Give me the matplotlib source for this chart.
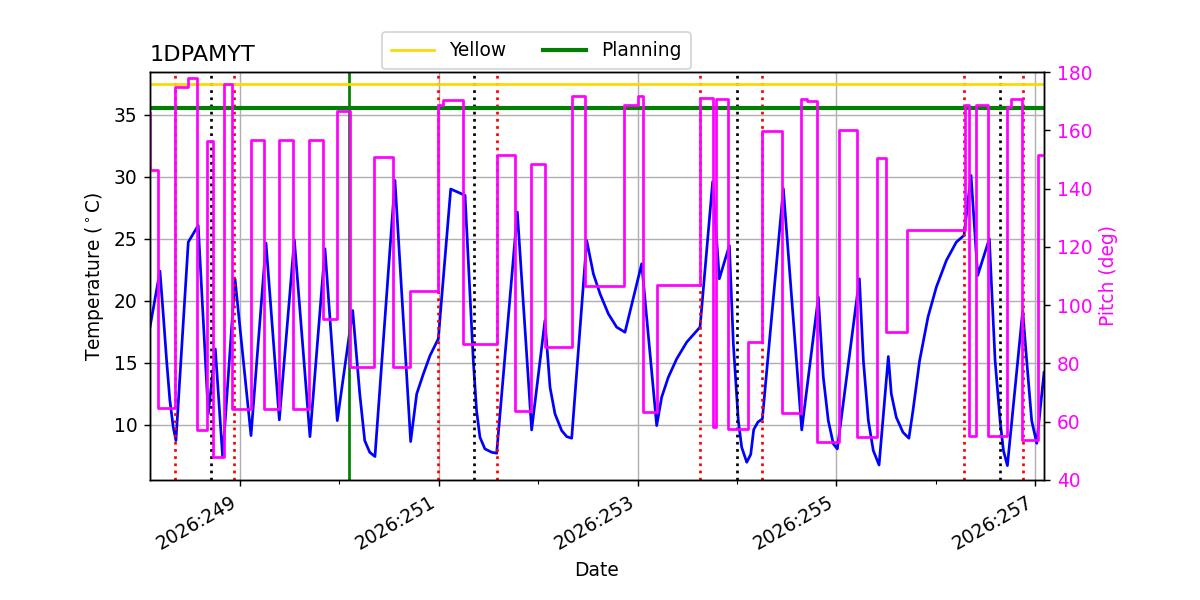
import matplotlib
matplotlib.use("Agg")
import matplotlib.pyplot as plt
from matplotlib.ticker import FixedLocator, FuncFormatter

# model temperature, day of year 2026
temp_days = [
    248.095, 248.195, 248.228, 248.262, 248.295, 248.329, 248.356,
    248.48, 248.58, 248.681, 248.752, 248.826, 248.950,
    249.111, 249.262, 249.396, 249.547, 249.704, 249.855, 249.979, 250.134,
    250.205, 250.255, 250.305, 250.358,
    250.559, 250.717, 250.778, 250.845, 250.912, 250.995,
    251.12, 251.264, 251.347, 251.38, 251.414, 251.464, 251.531, 251.582,
    251.79, 251.934, 252.068, 252.119, 252.169, 252.236, 252.287, 252.337,
    252.488, 252.555, 252.622, 252.706, 252.789, 252.873,
    253.041, 253.192, 253.242, 253.309, 253.393, 253.494, 253.628,
    253.755, 253.822, 253.923, 253.963, 254.013, 254.047, 254.098,
    254.138, 254.168, 254.21, 254.255,
    254.466, 254.651, 254.818, 254.868, 254.918, 254.969, 255.009,
    255.231, 255.271, 255.321, 255.371, 255.429,
    255.522, 255.552, 255.602, 255.669, 255.729,
    255.77, 255.837, 255.921, 256.005, 256.106, 256.206, 256.283,
    256.354, 256.421, 256.538, 256.596, 256.646, 256.68, 256.72,
    256.874, 256.914, 256.964, 257.015, 257.088,
]
temp_vals = [
    17.86, 22.38, 18.93, 15.17, 11.94, 9.78, 8.71,
    24.72, 26.07, 10.86, 16.1, 7.36, 21.76,
    9.11, 24.64, 10.38, 24.91, 9.03, 24.18, 10.32, 19.2,
    12.48, 8.71, 7.77, 7.42,
    29.7, 8.63, 12.48, 14.09, 15.57, 16.92,
    29.0, 28.49, 15.17, 11.13, 8.98, 8.04, 7.77, 7.69,
    27.14, 9.57, 18.4, 13.01, 10.86, 9.52, 9.03, 8.9,
    24.85, 22.16, 20.55, 18.93, 17.86, 17.45,
    22.97, 9.92, 12.21, 13.82, 15.3, 16.65, 17.86,
    29.6, 21.76, 24.45, 16.51, 10.32, 8.17, 6.96,
    7.6, 9.6, 10.2, 10.46,
    29.03, 9.57, 20.28, 13.82, 10.32, 8.44, 8.04,
    21.76, 15.17, 10.32, 7.9, 6.74,
    15.49, 12.48, 10.59, 9.38, 8.9,
    11.13, 15.17, 18.67, 21.09, 23.24, 24.72, 25.26,
    30.1, 22.03, 24.99, 15.17, 10.32, 7.9, 6.69,
    19.2, 15.17, 10.32, 8.49, 14.2,
]

# pitch, value holds from each change time to the next
pitch_days = [
    248.09, 248.096, 248.178, 248.348, 248.48, 248.564, 248.664, 248.731,
    248.839, 248.923, 249.111, 249.245, 249.396, 249.53, 249.697, 249.832,
    249.979, 250.107, 250.348, 250.543, 250.711, 250.995, 251.04, 251.247,
    251.582, 251.767, 251.924, 252.068, 252.337, 252.471, 252.862, 253.007,
    253.05, 253.192, 253.628, 253.762, 253.792, 253.91, 254.114, 254.255,
    254.449, 254.644, 254.70, 254.801, 255.026, 255.21, 255.412, 255.495,
    255.713, 256.29, 256.337, 256.404, 256.528, 256.72, 256.76, 256.866,
    257.031, 257.1,
]
pitch_vals = [
    166.0, 146.5, 64.6, 174.8, 177.9, 57.2, 156.2, 47.8,
    175.8, 64.4, 156.8, 64.4, 156.8, 64.4, 156.8, 95.3,
    166.6, 78.9, 150.8, 78.9, 105.0, 168.6, 170.5, 86.5,
    151.6, 63.8, 148.3, 85.8, 171.8, 106.4, 168.8, 171.8,
    63.5, 107.0, 171.2, 58.1, 170.6, 57.5, 87.3, 159.6,
    63.0, 170.6, 169.9, 53.2, 160.2, 54.7, 150.6, 90.7,
    125.9, 168.8, 55.2, 168.6, 55.2, 168.0, 170.8, 53.7,
    151.4, 151.4,
]

red_lines = [248.349, 248.943, 250.995, 251.589, 253.631, 254.255, 256.287, 256.874]
black_lines = [248.708, 251.357, 254.003, 256.646]
green_lines = [250.100]

yellow_limit = 37.5
planning_limit = 35.5

major_days = [249, 251, 253, 255, 257]
minor_days = [250, 252, 254, 256]
temp_ticks = [10, 15, 20, 25, 30, 35]
pitch_ticks = [40, 60, 80, 100, 120, 140, 160, 180]


def plot_model():
    """Temperature and pitch for 1DPAMYT"""
    plt.rcParams["font.size"] = 10.3
    fig, ax1 = plt.subplots(figsize=(1200 / 130, 600 / 130), dpi=130)
    fig.subplots_adjust(left=0.125, right=0.87, bottom=0.2, top=0.88)

    ax1.plot(temp_days, temp_vals, color="blue", lw=1.5)
    for d in red_lines:
        ax1.axvline(d, color="red", ls=":", lw=1.5)
    for d in black_lines:
        ax1.axvline(d, color="black", ls=":", lw=1.5)
    for d in green_lines:
        ax1.axvline(d, color="green", lw=1.5)
    ax1.axhline(yellow_limit, color="gold", lw=1.5, label="Yellow")
    ax1.axhline(planning_limit, color="green", lw=2.3, label="Planning")

    ax1.set_xlim(248.095, 257.088)
    ax1.set_ylim(5.53, 38.44)
    ax1.set_yticks(temp_ticks)
    ax1.xaxis.set_major_locator(FixedLocator(major_days))
    ax1.xaxis.set_minor_locator(FixedLocator(minor_days))
    ax1.xaxis.set_major_formatter(FuncFormatter(lambda d, p: f"2026:{int(round(d)):03d}"))
    plt.setp(ax1.get_xticklabels(), rotation=30, ha="right")
    ax1.grid(True)
    ax1.set_xlabel("Date")
    ax1.set_ylabel(r"Temperature ($^\circ$C)")
    ax1.set_title("1DPAMYT", loc="left")

    ax2 = ax1.twinx()
    ax2.plot(pitch_days, pitch_vals, color="magenta", lw=1.5, drawstyle="steps-post")
    ax2.set_ylim(40, 180)
    ax2.set_yticks(pitch_ticks)
    ax2.tick_params(axis="y", labelcolor="magenta")
    ax2.set_ylabel("Pitch (deg)", color="magenta")

    fig.legend(loc="upper center", bbox_to_anchor=(0.447, 0.947), ncol=2,
               borderaxespad=0, handlelength=2.3, borderpad=0.5)
    fig.savefig("out.png", dpi=130)


def main():
    plot_model()


if __name__ == "__main__":
    main()
